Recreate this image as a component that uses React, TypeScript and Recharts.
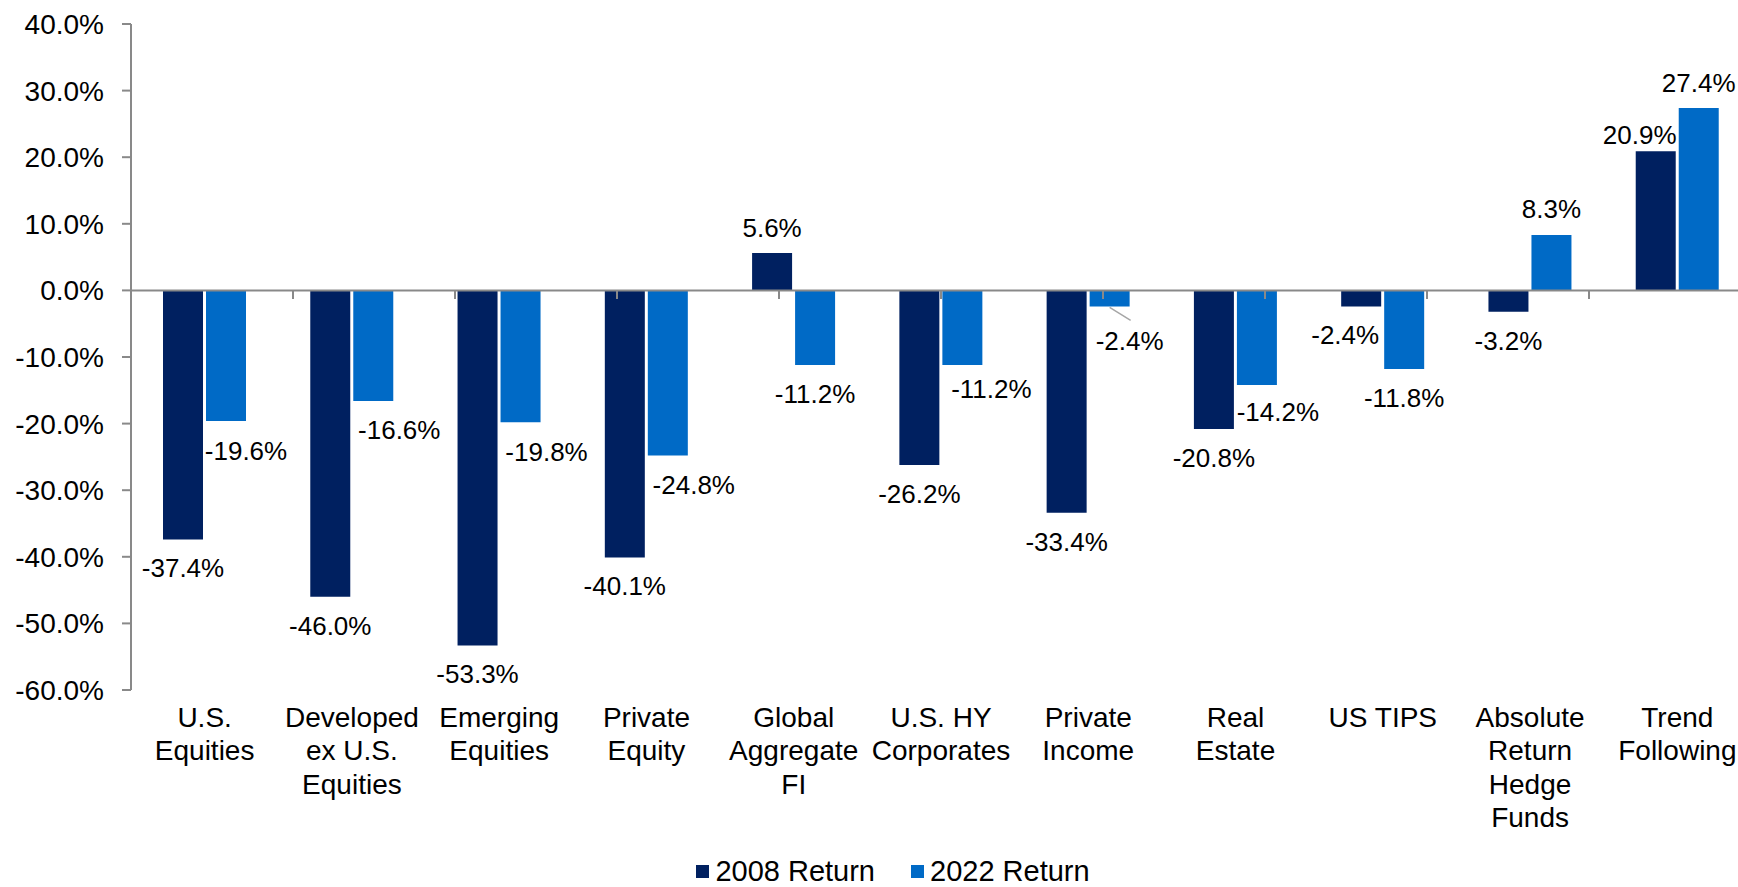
import React from 'react';
import { BarChart, Bar, XAxis, YAxis, ReferenceLine, LabelList, Legend } from 'recharts';

// ---------- data ----------
const categories = [
  'U.S. Equities',
  'Developed ex U.S. Equities',
  'Emerging Equities',
  'Private Equity',
  'Global Aggregate FI',
  'U.S. HY Corporates',
  'Private Income',
  'Real Estate',
  'US TIPS',
  'Absolute Return Hedge Funds',
  'Trend Following',
];
const categoryLines = [
  ['U.S.', 'Equities'],
  ['Developed', 'ex U.S.', 'Equities'],
  ['Emerging', 'Equities'],
  ['Private', 'Equity'],
  ['Global', 'Aggregate', 'FI'],
  ['U.S. HY', 'Corporates'],
  ['Private', 'Income'],
  ['Real', 'Estate'],
  ['US TIPS'],
  ['Absolute', 'Return', 'Hedge', 'Funds'],
  ['Trend', 'Following'],
];
const return2008 = [-37.4, -46.0, -53.3, -40.1, 5.6, -26.2, -33.4, -20.8, -2.4, -3.2, 20.9];
const return2022 = [-19.6, -16.6, -19.8, -24.8, -11.2, -11.2, -2.4, -14.2, -11.8, 8.3, 27.4];
const yTicks = [-60, -50, -40, -30, -20, -10, 0, 10, 20, 30, 40];
const seriesNames = ['2008 Return', '2022 Return'];
const separatorIndices = [1, 2, 3, 4, 5, 6, 7, 8, 9, 10];

// ---------- label layout tweaks (offsets in px) ----------
const labelDx2008 = [0, 0, 0, 0, 0, 0, 0, 0, -16, 0, -16];
const labelDy2008 = [0, 0, 0, 0, -0.7, 0, 0, 0, 0, 0, 8.7];
const labelDx2022 = [20, 26, 26, 26, 0, 29, 20, 21, 0, 0, 0];
const labelDy2022 = [1.5, 0, 0.5, 1, 0.5, -5, 5.5, -2, 0.5, -1, 0];
const leader2022 = [false, false, false, false, false, false, true, false, false, false, false];

// ---------- styles ----------
const COLOR_2008 = '#002060';
const COLOR_2022 = '#006AC6';
const AXIS = '#898989';
const FONT = '"Liberation Sans", Arial, Helvetica, sans-serif';
const seriesColors = [COLOR_2008, COLOR_2022];

const data = categories.map((name, i) => ({ name, r2008: return2008[i], r2022: return2022[i] }));

const CategoryTick = (props: any) => {
  const { x, y, payload } = props;
  const idx = payload && typeof payload.index === 'number' ? payload.index : categories.indexOf(payload.value);
  const lines = categoryLines[idx] || [String(payload.value)];
  return (
    <text x={x} y={y + 37} textAnchor="middle" fontSize={28} fill="#000" fontFamily={FONT}>
      {lines.map((l, k) => (
        <tspan key={k} x={x} dy={k === 0 ? 0 : 33.3}>
          {l}
        </tspan>
      ))}
    </text>
  );
};

const makeLabel =
  (values: number[], dx: number[], dy: number[], leader?: boolean[]) =>
  (props: any) => {
    const { x, y, width, height, index } = props;
    const v = values[index];
    if (v === undefined) return null;
    const nx = Number(x);
    const ny = Number(y);
    const w = Number(width);
    const h = Number(height);
    const top = Math.min(ny, ny + h);
    const bottom = Math.max(ny, ny + h);
    const bx = nx + w / 2;
    const cx = bx + dx[index];
    const cy = v >= 0 ? top - 25 + dy[index] : bottom + 28.5 + dy[index];
    return (
      <g>
        {leader && leader[index] ? (
          <line x1={bx} y1={bottom + 1} x2={bx + 21} y2={bottom + 14} stroke="#a6a6a6" strokeWidth={1.5} />
        ) : null}
        <text x={cx} y={cy} dy="0.358em" textAnchor="middle" fontSize={26} fill="#000" fontFamily={FONT}>
          {`${v.toFixed(1)}%`}
        </text>
      </g>
    );
  };

const LegendContent = () => (
  <div
    style={{
      display: 'flex',
      justifyContent: 'center',
      alignItems: 'center',
      height: 30,
      fontFamily: FONT,
      fontSize: 29,
      color: '#000',
      lineHeight: '30px',
    }}
  >
    {seriesNames.map((n, i) => (
      <div key={n} style={{ display: 'flex', alignItems: 'center', marginLeft: i ? 36 : 0 }}>
        <span
          style={{ width: 13, height: 13, background: seriesColors[i], display: 'inline-block', marginRight: 6 }}
        />
        <span>{n}</span>
      </div>
    ))}
  </div>
);

export default function App() {
  return (
    <div
      style={{
        position: 'absolute',
        left: 0,
        top: 0,
        width: 1738,
        height: 887,
        overflow: 'hidden',
        background: '#fff',
      }}
    >
      <BarChart
        width={1786}
        height={887}
        data={data}
        margin={{ top: 24, right: 35, bottom: 17, left: 0 }}
        barSize={40}
        barGap={3}
      >
        <XAxis
          dataKey="name"
          xAxisId={0}
          axisLine={false}
          tickLine={false}
          tickSize={0}
          tickMargin={0}
          height={150}
          interval={0}
          tick={(p: any) => <CategoryTick {...p} />}
        />
        <XAxis xAxisId="sep" type="number" domain={[0, 11]} allowDataOverflow hide />
        <YAxis
          type="number"
          domain={[-60, 40]}
          ticks={yTicks}
          interval={0}
          allowDataOverflow
          width={131}
          tickSize={9}
          tickMargin={18}
          axisLine={{ stroke: AXIS, strokeWidth: 2 }}
          tickLine={{ stroke: AXIS, strokeWidth: 2 }}
          tick={{ fontSize: 28, fill: '#000', fontFamily: FONT }}
          tickFormatter={(v: number) => `${v.toFixed(1)}%`}
        />
        <Legend
          verticalAlign="bottom"
          content={<LegendContent />}
          wrapperStyle={{ top: 856, left: 0, width: 1786, height: 30 }}
        />
        <Bar dataKey="r2008" name={seriesNames[0]} fill={COLOR_2008} isAnimationActive={false}>
          <LabelList dataKey="r2008" content={makeLabel(return2008, labelDx2008, labelDy2008)} />
        </Bar>
        <Bar dataKey="r2022" name={seriesNames[1]} fill={COLOR_2022} isAnimationActive={false}>
          <LabelList dataKey="r2022" content={makeLabel(return2022, labelDx2022, labelDy2022, leader2022)} />
        </Bar>
        <ReferenceLine y={0} stroke={AXIS} strokeWidth={2} />
        {separatorIndices.map((i) => (
          <ReferenceLine
            key={i}
            xAxisId="sep"
            segment={[
              { x: i, y: 0 },
              { x: i, y: -1.3 },
            ]}
            stroke={AXIS}
            strokeWidth={2}
          />
        ))}
      </BarChart>
    </div>
  );
}
